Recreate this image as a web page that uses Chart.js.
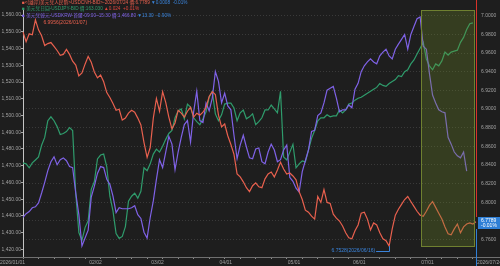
<!DOCTYPE html>
<html>
<head>
<meta charset="utf-8">
<script src="https://cdn.jsdelivr.net/npm/chart.js@4/dist/chart.umd.min.js"></script>
<style>
  html, body { margin: 0; background: #1e1e1e; }
  #wrap { width: 500px; height: 266px; }
</style>
</head>
<body>
<div id="wrap"><canvas id="c"></canvas></div>
<script>
// ---- data ----
// trading days 2026/01/01 .. 2026/07/24 (weekdays)
const days = [];
for (let d = new Date(Date.UTC(2026, 0, 1)); d <= new Date(Date.UTC(2026, 6, 24)); d.setUTCDate(d.getUTCDate() + 1)) {
  const w = d.getUTCDay();
  if (w === 0 || w === 6) continue;
  days.push(d.toISOString().slice(0, 10).replace(/-/g, '/'));
}

// USDCNH (right axis)
const cnh = [
  6.9828, 6.9723, 6.9807, 6.9797, 6.9956, 6.9849, 6.9786, 6.9681, 6.9702, 6.9713,
  6.9671, 6.9628, 6.9576, 6.9586, 6.9639, 6.9586, 6.9513, 6.9471, 6.9355, 6.9386,
  6.9481, 6.9565, 6.9502, 6.9397, 6.9334, 6.9365, 6.9292, 6.9176, 6.9123, 6.9060,
  6.8986, 6.8997, 6.8881, 6.8902, 6.8955, 6.8986, 6.8965, 6.8902, 6.8828, 6.8639,
  6.8481, 6.8586, 6.8902, 6.9113, 6.8976, 6.9186, 6.9071, 6.8913, 6.8786, 6.8850,
  6.8986, 6.8955, 6.8913, 6.8976, 6.9018, 6.8913, 6.8955, 6.8934, 6.8965, 6.9018,
  6.9134, 6.9186, 6.9155, 6.8934, 6.8807, 6.8839, 6.8713, 6.8618, 6.8513, 6.8302,
  6.8271, 6.8218, 6.8155, 6.8113, 6.8176, 6.8207, 6.8165, 6.8155, 6.8250, 6.8302,
  6.8323, 6.8271, 6.8344, 6.8428, 6.8355, 6.8302, 6.8313, 6.8281, 6.8239, 6.8113,
  6.8028, 6.7913, 6.7892, 6.7849, 6.7818, 6.8060, 6.7997, 6.8134, 6.7997, 6.7986,
  6.7871, 6.7828, 6.7797, 6.7744, 6.7671, 6.7618, 6.7607, 6.7692, 6.7755, 6.7881,
  6.7892, 6.7818, 6.7702, 6.7776, 6.7755, 6.7671, 6.7607, 6.7586, 6.7528, 6.7713,
  6.7860, 6.7923, 6.7976, 6.8028, 6.8060, 6.8007, 6.7955, 6.7902, 6.7860, 6.7849,
  6.7902, 6.7965, 6.8007, 6.7944, 6.7881, 6.7818, 6.7734, 6.7660, 6.7650, 6.7713,
  6.7765, 6.7671, 6.7734, 6.7765, 6.7776, 6.7765, 6.7789
];

// USDJPY (own hidden scale)
const jpy = [
  151.60, 151.52, 151.20, 151.60, 151.84, 152.08, 153.04, 153.68, 155.04, 155.36,
  155.04, 154.56, 153.92, 154.00, 154.16, 154.48, 154.24, 149.12, 145.92, 145.28,
  146.32, 146.88, 149.44, 150.08, 151.92, 152.24, 152.32, 151.28, 148.88, 147.68,
  145.84, 145.44, 145.60, 146.40, 148.48, 148.88, 149.12, 148.72, 149.28, 151.20,
  150.96, 151.52, 152.32, 152.72, 152.48, 152.96, 153.52, 154.00, 154.24, 155.28,
  155.84, 156.00, 155.20, 156.40, 156.16, 155.28, 154.96, 154.72, 155.20, 155.76,
  156.96, 157.44, 155.60, 155.04, 155.52, 156.40, 156.48, 156.48, 156.08, 155.04,
  155.68, 155.92, 155.20, 155.36, 155.60, 154.72, 154.96, 155.28, 155.92, 155.92,
  156.32, 156.00, 155.68, 157.44, 152.08, 151.84, 152.48, 153.12, 151.20, 151.52,
  151.76, 151.68, 152.64, 153.60, 154.24, 155.04, 155.28, 155.28, 155.52, 155.36,
  155.44, 155.44, 155.92, 155.68, 155.92, 156.40, 156.48, 156.72, 156.88, 156.96,
  157.12, 157.28, 157.44, 157.60, 157.76, 158.08, 157.92, 157.84, 158.08, 158.24,
  158.40, 158.72, 158.64, 159.04, 159.20, 159.68, 160.00, 160.48, 160.96, 161.44,
  160.08, 159.52, 159.20, 159.68, 159.52, 159.92, 160.64, 160.40, 160.64, 160.72,
  160.80, 161.44, 161.84, 162.48, 162.96, 163.03
];

// USDKRW (left axis)
const krw = [
  1439.1, 1441.4, 1442.6, 1444.9, 1445.5, 1447.8, 1453.7, 1460.1, 1467.1, 1472.4,
  1475.3, 1470.6, 1473.6, 1474.7, 1473.0, 1469.5, 1468.9, 1453.7, 1440.8, 1422.1,
  1426.8, 1431.5, 1451.3, 1457.8, 1465.4, 1469.5, 1468.9, 1461.9, 1458.9, 1451.9,
  1442.0, 1444.9, 1444.3, 1444.3, 1444.3, 1444.9, 1446.1, 1440.8, 1438.5, 1430.3,
  1426.8, 1439.1, 1449.0, 1461.9, 1473.6, 1468.9, 1478.2, 1487.6, 1482.9, 1467.7,
  1478.2, 1487.0, 1494.6, 1497.0, 1484.1, 1502.2, 1514.5, 1497.0, 1495.8, 1507.5,
  1502.8, 1510.4, 1526.2, 1520.4, 1507.5, 1513.3, 1505.7, 1503.4, 1488.2, 1474.2,
  1482.3, 1488.2, 1481.2, 1474.7, 1474.2, 1480.0, 1480.6, 1472.4, 1471.2, 1478.2,
  1482.9, 1479.4, 1472.4, 1473.6, 1479.4, 1482.3, 1463.0, 1460.7, 1456.6, 1454.3,
  1466.5, 1473.0, 1479.4, 1490.5, 1491.1, 1499.9, 1501.6, 1507.5, 1515.1, 1516.3,
  1517.4, 1510.4, 1502.2, 1503.4, 1503.4, 1506.3, 1504.6, 1515.7, 1519.2, 1526.2,
  1529.7, 1532.0, 1533.8, 1532.0, 1530.9, 1535.6, 1537.9, 1539.6, 1535.6, 1533.8,
  1539.6, 1542.6, 1545.5, 1548.4, 1539.6, 1548.4, 1553.1, 1557.8, 1558.9, 1541.4,
  1539.6, 1525.0, 1512.2, 1507.5, 1503.4, 1502.2, 1501.6, 1487.0, 1482.9, 1478.2,
  1475.9, 1474.7, 1478.2, 1466.8
];

// dates that get an x label
const xLabelDays = ['2026/01/01', '2026/02/02', '2026/03/02', '2026/04/01', '2026/05/01', '2026/06/01', '2026/07/01', '2026/07/24'];
const boxFrom = '2026/07/01';

// legend rows: [text, colour] pieces
const RED = '#e8604e', GREEN = '#2f9c6c', PURPLE = '#7f62e6', BLUE = '#3a84dc', UP = '#e0463c';
const legendRows = [
  [['■<(離岸)美元兌人民幣>USDCNH-BID>-2026/07/24 價:6.7789 ', RED], ['▼0.0008  -0.01%', BLUE]],
  [['■ 美元兌日圓-USDJPY-BID 價:163.030 ', GREEN], ['▲0.024  +0.01%', UP]],
  [['■ 美元兌韓元-USDKRW-首爾-09:00~15:30 價:1,466.80 ', PURPLE], ['▼13.30  -0.90%', BLUE]]
];
const lastChange = '-0.01%';

const FONT = '"Liberation Sans", "Noto Sans CJK TC", sans-serif';
const TXT = '#a0a0a0';

const overlay = {
  id: 'overlay',
  beforeDraw(chart) {
    const { ctx, width, height } = chart;
    ctx.save();
    ctx.fillStyle = '#1e1e1e';
    ctx.fillRect(0, 0, width, height);
    ctx.restore();
  },
  afterDatasetsDraw(chart) {
    const { ctx, chartArea: a, scales: { x } } = chart;
    const x0 = Math.round(x.getPixelForValue(days.indexOf(boxFrom))) - 2;
    const x1 = Math.round(a.right) - 2;
    const y0 = Math.round(a.top) + 2, y1 = Math.round(a.bottom) - 11;
    ctx.save();
    ctx.fillStyle = 'rgba(110,135,40,0.3)';
    ctx.fillRect(x0, y0, x1 - x0, y1 - y0);
    ctx.strokeStyle = '#6f8030';
    ctx.lineWidth = 1;
    ctx.strokeRect(x0 + 0.5, y0 + 0.5, x1 - x0, y1 - y0);
    ctx.restore();
  },
  afterDraw(chart) {
    const { ctx, chartArea: a, scales: { x, yR } } = chart;
    ctx.save();
    ctx.font = '5px ' + FONT;
    ctx.textBaseline = 'middle';

    // bottom axis line across the full width
    ctx.strokeStyle = '#707070';
    ctx.lineWidth = 1;
    ctx.beginPath();
    ctx.moveTo(0, Math.round(a.bottom) + 0.5);
    ctx.lineTo(chart.width, Math.round(a.bottom) + 0.5);
    ctx.stroke();

    // x labels
    ctx.fillStyle = TXT;
    xLabelDays.forEach((d, k) => {
      const px = x.getPixelForValue(days.indexOf(d));
      const first = k === 0, last = k === xLabelDays.length - 1;
      const txt = first || last ? d : d.slice(5);
      ctx.textAlign = first ? 'right' : 'left';
      ctx.fillText(txt, first ? px + 2 : last ? px + 1 : px - 2, a.bottom + 6);
    });

    // current value box on right axis
    const lastV = cnh[cnh.length - 1];
    const yl = Math.round(yR.getPixelForValue(lastV));
    const bx = Math.round(a.right) + 2, bt = yl - 5, bh = 12;
    const ax = Math.round(a.right) + 0.5;
    ctx.strokeStyle = '#d8322a';
    ctx.beginPath(); ctx.moveTo(ax, 0); ctx.lineTo(ax, bt); ctx.stroke();
    ctx.strokeStyle = '#2f7fd6';
    ctx.beginPath(); ctx.moveTo(ax, bt + bh); ctx.lineTo(ax, chart.height); ctx.stroke();
    ctx.fillStyle = '#2f7fd6';
    ctx.fillRect(bx, bt, chart.width - bx, bh);
    ctx.fillStyle = '#ffffff';
    ctx.textAlign = 'left';
    ctx.fillText(lastV.toFixed(4), bx + 3, bt + 3.2);
    ctx.fillText(lastChange, bx + 3, bt + 8.8);

    // max / min marks on USDCNH
    const iMax = cnh.indexOf(Math.max(...cnh));
    const iMin = cnh.indexOf(Math.min(...cnh));
    const mx = x.getPixelForValue(iMax), my = yR.getPixelForValue(cnh[iMax]);
    ctx.fillStyle = RED;
    ctx.fillText(cnh[iMax].toFixed(4) + '(' + days[iMax] + ')', mx + 8, my + 3);
    const nx = x.getPixelForValue(iMin), ny = yR.getPixelForValue(cnh[iMin]);
    ctx.fillStyle = BLUE;
    ctx.textAlign = 'right';
    ctx.fillText(cnh[iMin].toFixed(4) + '(' + days[iMin] + ')', nx - 14, ny + 4.5);
    ctx.strokeStyle = BLUE;
    ctx.beginPath();
    ctx.moveTo(nx - 13, Math.round(ny + 4.5) + 0.5);
    ctx.lineTo(Math.round(nx) + 0.5, Math.round(ny + 4.5) + 0.5);
    ctx.lineTo(Math.round(nx) + 0.5, ny);
    ctx.stroke();

    // legend lines
    ctx.font = '4.7px ' + FONT;
    ctx.textAlign = 'left';
    legendRows.forEach((row, r) => {
      let tx = Math.round(a.left) - 1;
      row.forEach(([t, c]) => {
        ctx.fillStyle = c;
        ctx.fillText(t, tx, 2.8 + r * 6.3);
        tx += ctx.measureText(t).width;
      });
    });
    ctx.restore();
  }
};

new Chart(document.getElementById('c'), {
  type: 'line',
  data: {
    labels: days,
    datasets: [
      { data: cnh, yAxisID: 'yR', borderColor: RED, borderWidth: 1.2, pointRadius: 0, tension: 0 },
      { data: krw, yAxisID: 'yL', borderColor: PURPLE, borderWidth: 1.2, pointRadius: 0, tension: 0 },
      { data: jpy, yAxisID: 'yJ', borderColor: GREEN, borderWidth: 1.2, pointRadius: 0, tension: 0 }
    ]
  },
  options: {
    responsive: true,
    maintainAspectRatio: false,
    animation: false,
    devicePixelRatio: 1,
    layout: { padding: { top: 3, left: 0, right: 0, bottom: 0 } },
    plugins: { legend: { display: false }, tooltip: { enabled: false } },
    scales: {
      x: {
        ticks: { display: false, autoSkip: false },
        grid: {
          drawOnChartArea: false, drawTicks: true, tickLength: 2,
          color: c => (c.index % 5 === 0 ? '#8a8a8a' : 'rgba(0,0,0,0)')
        },
        border: { display: false },
        afterFit: s => { s.height = 9; }
      },
      yL: {
        position: 'left',
        min: 1415.5, max: 1564.2,
        ticks: {
          stepSize: 10, includeBounds: false, padding: 0, color: TXT,
          font: { family: FONT, size: 5 },
          callback: v => v.toLocaleString('en-US', { minimumFractionDigits: 2, maximumFractionDigits: 2 })
        },
        grid: { drawOnChartArea: false, drawTicks: true, tickLength: 2, color: '#a8a8a8' },
        border: { display: true, color: '#c4c4c4' },
        afterFit: s => { s.width = 23; }
      },
      yR: {
        position: 'right',
        min: 6.7411, max: 7.0084,
        ticks: {
          stepSize: 0.02, includeBounds: false, padding: 5, color: TXT,
          font: { family: FONT, size: 5 },
          callback: v => v.toFixed(4)
        },
        grid: { drawOnChartArea: true, drawTicks: false, color: '#3a3a3a' },
        border: { display: false, dash: [1, 2] },
        afterFit: s => { s.width = 24; }
      },
      yJ: { display: false, min: 143.92, max: 164.24 }
    }
  },
  plugins: [overlay]
});
</script>
</body>
</html>
